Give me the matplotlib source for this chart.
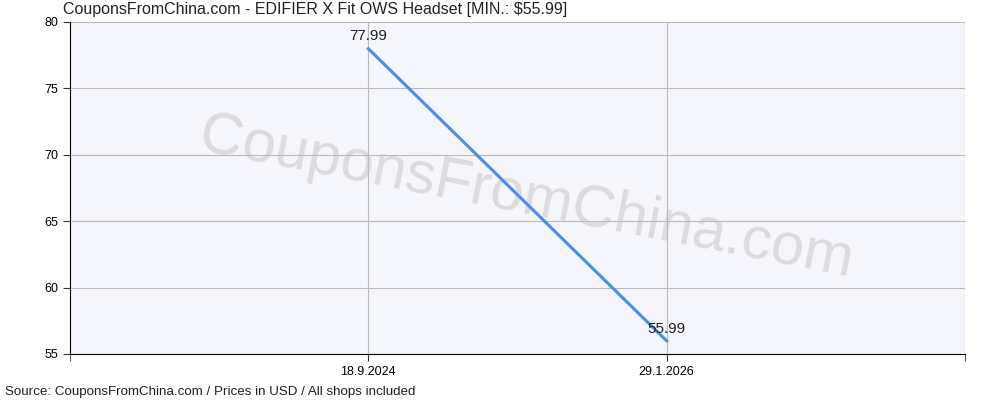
import matplotlib.pyplot as plt

dates = ["18.9.2024", "29.1.2026"]
prices = [77.99, 55.99]
title = "CouponsFromChina.com - EDIFIER X Fit OWS Headset [MIN.: $55.99]"
footer = "Source: CouponsFromChina.com / Prices in USD / All shops included"

plt.rcParams["font.family"] = ["Liberation Sans", "DejaVu Sans"]

fig = plt.figure(figsize=(10, 4), dpi=100)
ax = fig.add_axes([0.07, 0.115, 0.895, 0.83])
ax.set_facecolor("#f5f5fc")

xs = list(range(1, len(dates) + 1))
ax.plot(xs, prices, color="#4a8eeb", lw=2.2, zorder=3)
for x, p in zip(xs, prices):
    ax.text(x, p + 0.4, f"{p:.2f}", ha="center", va="bottom", fontsize=11, color="#222222", zorder=4)

ax.set_xlim(0, len(dates) + 1)
ax.set_ylim(55, 80)
ax.set_xticks(xs)
ax.set_xticklabels(dates)
ax.set_xticks([0, len(dates) + 1], minor=True)
ax.set_yticks(range(55, 81, 5))
ax.tick_params(which="both", labelsize=9, color="#333333", length=5)
ax.grid(True, color="#bbbbbb", lw=0.8)
ax.axvline(len(dates) + 1, color="#bbbbbb", lw=0.8)
for s in ["top", "right"]:
    ax.spines[s].set_visible(False)

ax.text(0.51, 0.47, "CouponsFromChina.com", transform=ax.transAxes, ha="center", va="center",
        fontsize=43, color="#dcdce0", rotation=-11, zorder=1)

fig.text(0.063, 0.995, title, ha="left", va="top", fontsize=11.5, color="#222222")
fig.text(0.005, 0.005, footer, ha="left", va="bottom", fontsize=9.6, color="#222222")

fig.savefig("out.png", dpi=100)
